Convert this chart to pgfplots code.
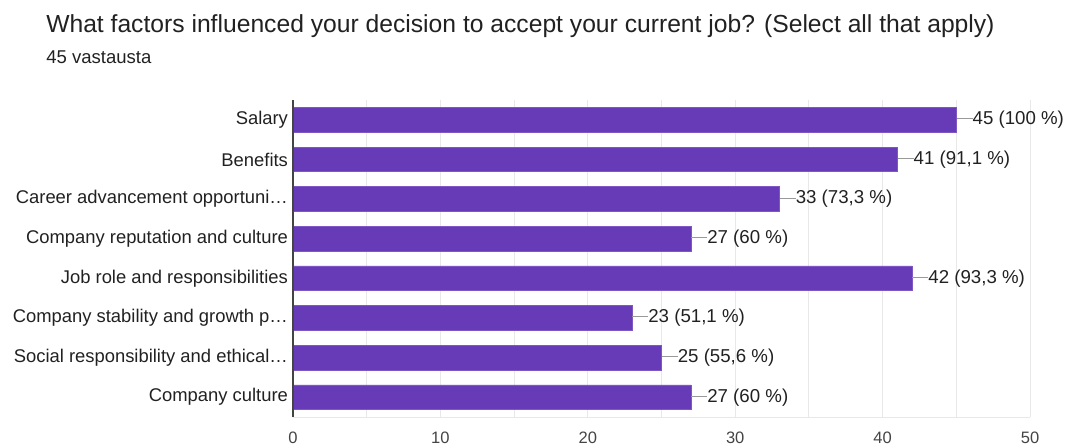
\documentclass[border=0pt]{standalone}
\usepackage{pgfplots}
\pgfplotsset{compat=1.18}
\usepackage{fontspec}
\setmainfont{Liberation Sans}
\definecolor{barpurple}{HTML}{673AB7}
\definecolor{barborder}{HTML}{7E57C2}
\definecolor{gridgray}{HTML}{E8E8E8}
\definecolor{txt}{HTML}{212121}
\definecolor{ticktxt}{HTML}{444444}
\definecolor{linegray}{HTML}{999999}
\begin{document}
\begin{tikzpicture}
\useasboundingbox (0,0) rectangle (803.25pt,-334.5pt);
\node[anchor=base west, inner sep=0, font=\fontsize{18.5pt}{21pt}\selectfont, text=txt] at (34.5pt,-24.5pt) {What factors influenced your decision to accept your current job? (Select all that apply)};
\node[anchor=base west, inner sep=0, font=\fontsize{13.9pt}{16pt}\selectfont, text=txt] at (34.5pt,-47.5pt) {45 vastausta};
\begin{axis}[
  at={(219.75pt,-312.75pt)}, anchor=south west,
  scale only axis, width=552.75pt, height=237.75pt,
  xbar, bar width=18.5pt,
  xmin=0, xmax=50, ymin=-0.5, ymax=7.5,
  xtick={0,10,...,50}, minor xtick={5,15,...,45},
  ytick={0,...,7},
  yticklabels={Company culture, Social responsibility and ethical…, Company stability and growth p…, Job role and responsibilities, Company reputation and culture, Career advancement opportuni…, Benefits, Salary},
  grid=both, major grid style={gridgray, line width=0.75pt}, minor grid style={gridgray, line width=0.75pt},
  ymajorgrids=false, yminorgrids=false,
  axis line style={draw=none},
  tick style={draw=none},
  /pgf/number format/assume math mode=true,
  xticklabel style={font=\fontsize{12.4pt}{14pt}\selectfont, text=ticktxt, yshift=-8pt},
  yticklabel style={font=\fontsize{13.8pt}{16pt}\selectfont, text=txt, xshift=4pt},
  point meta=explicit symbolic,
  nodes near coords={\textcolor{linegray}{\rule[0.3em]{12pt}{0.6pt}}\pgfplotspointmeta},
  nodes near coords align={horizontal},
  every node near coord/.append style={font=\fontsize{14pt}{16pt}\selectfont, text=txt, anchor=west, inner xsep=0pt},
  clip=false,
]
\draw[gridgray, line width=0.75pt] (axis cs:0,-0.5) -- (axis cs:50,-0.5);
\addplot[fill=barpurple, draw=barborder, line width=0.5pt] coordinates {
  (27,0) [27 (60 \%)]
  (25,1) [25 (55,6 \%)]
  (23,2) [23 (51,1 \%)]
  (42,3) [42 (93,3 \%)]
  (27,4) [27 (60 \%)]
  (33,5) [33 (73,3 \%)]
  (41,6) [41 (91,1 \%)]
  (45,7) [45 (100 \%)]
};
\draw[color=ticktxt, line width=1pt] (axis cs:0,-0.5) -- (axis cs:0,7.5);
\end{axis}
\end{tikzpicture}
\end{document}
